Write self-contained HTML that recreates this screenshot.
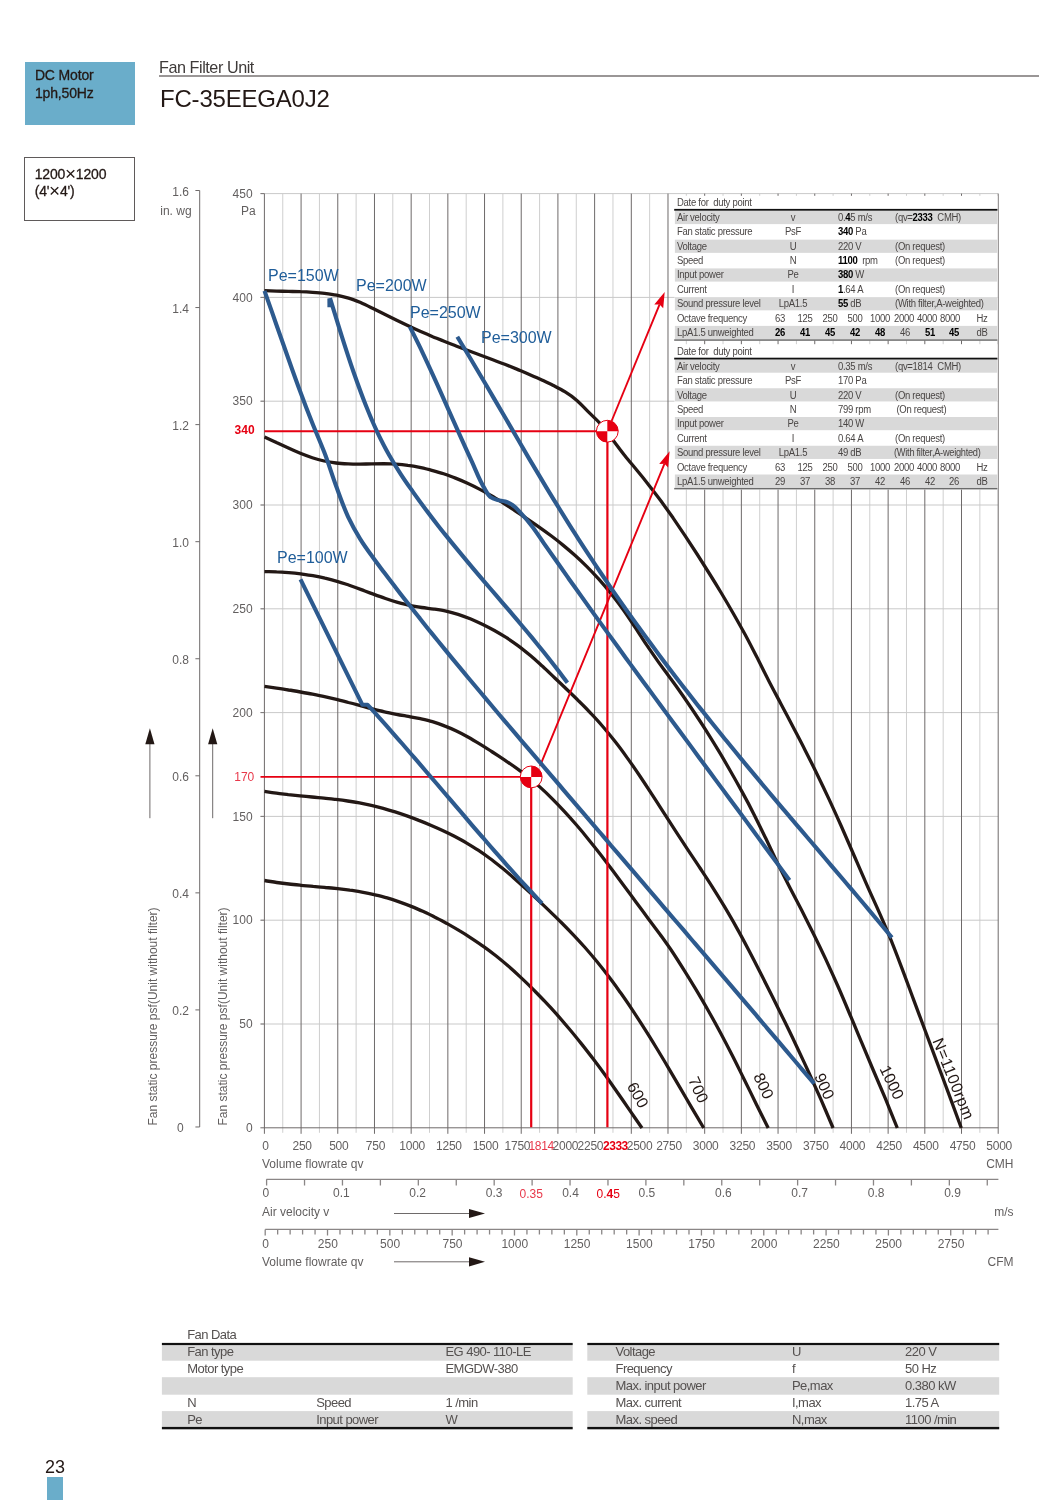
<!DOCTYPE html>
<html lang="en"><head><meta charset="utf-8"><title>FC-35EEGA0J2 Fan Filter Unit</title>
<style>
*{box-sizing:border-box;margin:0;padding:0}
html,body{width:1061px;height:1500px;background:#fff;overflow:hidden}
body{position:relative;font-family:"Liberation Sans",sans-serif;color:#231815}
.abs{position:absolute}
.tag1{left:24.5px;top:62.2px;width:110.9px;height:62.6px;background:#6aadca;padding:5.2px 0 0 10.4px;font-size:14px;line-height:17.3px;letter-spacing:-0.15px;-webkit-text-stroke:0.3px #231815}
.tag2{left:24.3px;top:157.2px;width:111.2px;height:63.6px;border:1px solid #5f5a5a;background:#fff;padding:8.2px 0 0 9.4px;font-size:14px;line-height:17px;letter-spacing:-0.15px;-webkit-text-stroke:0.3px #231815}
.tag2 .x{display:inline-block;font-size:19px;line-height:10px;vertical-align:-1px;letter-spacing:0;-webkit-text-stroke:0;margin:0 -0.3px}
.sub{left:159px;top:57.6px;font-size:16.2px;line-height:18px;color:#3e3a39;letter-spacing:-0.45px}
.rule{left:159px;top:75.2px;width:880.4px;height:1.6px;background:#9a9696}
.title{left:160px;top:84.5px;font-size:24px;line-height:28px;letter-spacing:-0.2px;color:#231815}
svg.chart{position:absolute;left:0;top:0}
svg text{font-family:"Liberation Sans",sans-serif}
.dt{left:674.6px;width:322.8px;height:0;font-size:10px;letter-spacing:-0.3px;color:#4a4645}
.dt .h,.dt .r{position:absolute;left:0;width:100%;height:14.4px;line-height:14.4px}
.dt span{position:absolute;top:0;white-space:nowrap;transform:scaleX(.95);transform-origin:0 50%}
.dt .tight{display:inline-block;transform:scaleX(.975);transform-origin:0 50%;position:static;margin-left:-0.8px}
.dt b{color:#000;font-weight:bold}
.dt i{font-style:normal}
.dt .c1{left:2.1px}
.dt .c2{left:88px;width:60px;text-align:center;transform-origin:50% 50%}
.dt .c3{left:163.4px}
.dt .c4{left:220.3px}
.dt .o{width:30px;text-align:center;transform-origin:50% 50%}
.dt .o0{left:90.4px}.dt .o1{left:115.4px}.dt .o2{left:140.4px}.dt .o3{left:165.4px}.dt .o4{left:190.4px}.dt .o5{left:214px}.dt .o6{left:237.6px}.dt .o7{left:260.9px}.dt .o8{left:292px}
.dt .v .o5{left:215.4px}.dt .v .o6{left:240.4px}.dt .v .o7{left:264.9px}
.ft{height:0;font-size:13px;color:#555150;letter-spacing:-0.55px}
.ft .cap,.ft .r{position:absolute;left:0;width:100%;height:17px;line-height:17px}
.ft .r span{position:absolute;top:0;white-space:nowrap}
.pg{left:45px;top:1457.3px;font-size:18px;line-height:20px;color:#231815}
.pgb{left:46.9px;top:1476.9px;width:16.6px;height:24px;background:#6aadca}
</style></head><body>
<div class="abs tag1">DC Motor<br>1ph,50Hz</div>
<div class="abs tag2">1200<span class="x">&times;</span>1200<br>(4'<span class="x">&times;</span>4')</div>
<div class="abs sub">Fan Filter Unit</div>
<div class="abs rule"></div>
<h1 class="abs title" style="font-weight:normal">FC-35EEGA0J2</h1>
<svg class="chart" width="1061" height="1500" viewBox="0 0 1061 1500">
<path d="M282.75 193.6V1132.8M319.44 193.6V1132.8M356.12 193.6V1132.8M392.81 193.6V1132.8M429.50 193.6V1132.8M466.19 193.6V1132.8M502.88 193.6V1132.8M539.58 193.6V1132.8M576.27 193.6V1132.8M612.96 193.6V1132.8M649.64 193.6V1132.8M686.34 193.6V1132.8M723.03 193.6V1132.8M759.72 193.6V1132.8M796.41 193.6V1132.8M833.10 193.6V1132.8M869.79 193.6V1132.8M906.48 193.6V1132.8M943.17 193.6V1132.8M979.86 193.6V1132.8" stroke="#cfcfcf" stroke-width="1" fill="none"/>
<path d="M260.9 193.60H998.2M260.9 297.40H998.2M260.9 401.20H998.2M260.9 505.00H998.2M260.9 608.80H998.2M260.9 712.60H998.2M260.9 816.40H998.2M260.9 920.20H998.2M260.9 1024.00H998.2" stroke="#c9c9c9" stroke-width="1" fill="none"/>
<path d="M264.40 193.6V1133.8M301.09 193.6V1133.8M337.78 193.6V1133.8M374.47 193.6V1133.8M411.16 193.6V1133.8M447.85 193.6V1133.8M484.54 193.6V1133.8M521.23 193.6V1133.8M557.92 193.6V1133.8M594.61 193.6V1133.8M631.30 193.6V1133.8M667.99 193.6V1133.8M704.68 193.6V1133.8M741.37 193.6V1133.8M778.06 193.6V1133.8M814.75 193.6V1133.8M851.44 193.6V1133.8M888.13 193.6V1133.8M924.82 193.6V1133.8M961.51 193.6V1133.8M998.20 193.6V1133.8" stroke="#6e6a6a" stroke-width="1" fill="none"/>
<path d="M260.4 1127.80H998.2" stroke="#6e6a6a" stroke-width="1" fill="none"/>
<path d="M260.4 193.60H264.4M260.4 297.40H264.4M260.4 401.20H264.4M260.4 505.00H264.4M260.4 608.80H264.4M260.4 712.60H264.4M260.4 816.40H264.4M260.4 920.20H264.4M260.4 1024.00H264.4" stroke="#7a7676" stroke-width="1" fill="none"/>
<path d="M199.7 190.5V1127M195.4 190.50H199.7M195.4 307.56H199.7M195.4 424.62H199.7M195.4 541.68H199.7M195.4 658.74H199.7M195.4 775.80H199.7M195.4 892.86H199.7M195.4 1009.92H199.7M195.4 1126.98H199.7" stroke="#6e6a6a" stroke-width="1" fill="none"/>
<path d="M264.5 290.7C268.5 290.8 272.5 291.0 276.5 291.1C280.5 291.2 284.5 291.3 288.5 291.4C292.5 291.5 296.5 291.5 300.5 291.7C304.5 291.8 308.6 292.0 312.6 292.3C316.6 292.6 320.6 292.9 324.6 293.3C328.6 293.8 332.6 294.3 336.6 295.1C340.6 295.9 344.7 296.9 348.6 298.1C352.7 299.3 356.7 300.9 360.6 302.5C364.7 304.3 368.6 306.3 372.6 308.3C376.6 310.2 380.6 312.3 384.6 314.2C388.6 316.2 392.6 318.2 396.7 320.2C400.6 322.1 404.6 324.0 408.7 325.9C412.7 327.8 416.7 329.7 420.7 331.5C424.7 333.2 428.7 335.0 432.7 336.7C436.7 338.3 440.7 340.0 444.7 341.5C448.7 343.1 452.7 344.7 456.7 346.2C460.7 347.7 464.7 349.2 468.7 350.7C472.7 352.2 476.7 353.7 480.7 355.2C484.8 356.7 488.8 358.2 492.8 359.7C496.8 361.2 500.8 362.7 504.8 364.3C508.8 365.9 512.8 367.5 516.8 369.1C520.8 370.8 524.8 372.4 528.8 374.2C532.8 375.9 536.8 377.7 540.8 379.5C544.8 381.4 548.9 383.3 552.8 385.3C556.9 387.4 561.0 389.3 564.8 391.7C569.0 394.3 573.1 397.2 576.9 400.4C581.2 404.1 584.9 408.4 588.9 412.4C592.9 416.4 597.1 420.1 600.9 424.3C605.2 429.2 608.9 434.7 612.9 439.9C616.9 445.2 620.8 450.5 624.9 455.7C628.8 460.6 632.9 465.4 636.9 470.3C641.0 475.2 645.0 480.1 648.9 485.2C653.0 490.4 657.0 495.7 661.0 501.0C665.0 506.6 669.0 512.2 673.0 517.8C677.0 523.7 681.0 529.6 685.0 535.6C689.0 541.7 693.0 547.8 697.0 554.0C701.0 560.3 705.0 566.6 709.0 573.0C713.1 579.5 717.1 586.0 721.0 592.5C725.1 599.3 729.1 606.1 733.0 613.0C737.1 620.1 741.1 627.3 745.1 634.5C749.2 642.1 753.1 649.8 757.1 657.5C761.1 665.5 765.0 673.5 769.1 681.5C773.0 689.1 777.1 696.6 781.1 704.2C785.1 711.8 789.1 719.4 793.1 727.0C797.1 734.7 801.2 742.4 805.1 750.2C809.2 758.2 813.2 766.2 817.1 774.2C821.2 782.6 825.2 791.0 829.1 799.4C833.2 808.2 837.2 817.1 841.2 826.0C845.2 835.2 849.2 844.4 853.2 853.5C857.2 862.7 861.1 871.9 865.2 881.1C869.1 890.1 873.2 899.0 877.2 907.9C881.3 917.1 885.4 926.3 889.2 935.6C893.4 945.7 897.3 956.0 901.2 966.3C905.3 977.0 909.2 987.8 913.2 998.6C917.3 1009.4 921.2 1020.2 925.3 1031.0C929.2 1041.7 933.3 1052.4 937.3 1063.2C941.3 1073.9 945.3 1084.6 949.3 1095.3C953.3 1106.2 957.3 1117.1 961.3 1128.0" stroke="#231815" stroke-width="3.3" fill="none"/>
<path d="M264.5 437.0C268.5 438.8 272.5 440.6 276.4 442.5C280.4 444.3 284.4 446.2 288.4 448.0C292.3 449.8 296.3 451.6 300.3 453.3C304.3 454.9 308.2 456.4 312.3 457.7C316.2 459.0 320.2 460.1 324.2 461.0C328.1 461.9 332.1 462.5 336.1 463.0C340.1 463.5 344.1 463.7 348.1 463.9C352.1 464.1 356.0 464.1 360.0 464.1C364.0 464.1 368.0 463.9 372.0 463.9C375.9 463.8 379.9 463.7 383.9 463.7C387.9 463.8 391.9 463.9 395.8 464.1C399.8 464.4 403.8 464.8 407.8 465.4C411.8 465.9 415.8 466.6 419.7 467.4C423.7 468.3 427.7 469.2 431.7 470.3C435.7 471.4 439.7 472.5 443.6 473.8C447.6 475.2 451.6 476.6 455.5 478.1C459.6 479.7 463.5 481.4 467.5 483.2C471.5 485.0 475.5 487.0 479.4 489.1C483.4 491.2 487.4 493.4 491.4 495.7C495.4 498.0 499.3 500.5 503.3 503.0C507.3 505.5 511.3 508.2 515.2 510.8C519.2 513.4 523.2 516.1 527.2 518.8C531.2 521.5 535.2 524.3 539.1 527.1C543.1 529.9 547.1 532.8 551.1 535.8C555.1 538.8 559.1 541.9 563.0 545.1C567.0 548.4 571.0 551.8 574.9 555.3C579.0 559.0 583.0 562.8 586.9 566.6C591.0 570.7 594.9 574.9 598.8 579.2C602.9 583.8 606.9 588.5 610.7 593.3C614.9 598.4 618.8 603.7 622.7 609.0C626.8 614.7 630.7 620.6 634.6 626.5C638.7 632.6 642.5 638.9 646.6 644.9C650.5 650.7 654.5 656.4 658.5 662.1C662.4 667.5 666.5 672.8 670.4 678.3C674.5 683.8 678.5 689.4 682.4 695.0C686.4 700.8 690.4 706.6 694.3 712.5C698.4 718.6 702.4 724.7 706.3 730.9C710.3 737.3 714.3 743.7 718.2 750.2C722.3 756.9 726.2 763.7 730.1 770.5C734.2 777.6 738.2 784.7 742.1 791.9C746.2 799.3 750.2 806.8 754.0 814.4C758.1 822.5 762.0 830.7 766.0 838.8C770.0 847.2 773.8 855.6 777.9 863.9C781.8 871.8 785.8 879.7 789.8 887.5C793.8 895.2 797.8 902.8 801.8 910.5C805.8 918.4 809.8 926.3 813.7 934.2C817.8 942.5 821.8 950.8 825.7 959.1C829.7 967.8 833.7 976.7 837.6 985.5C841.7 994.8 845.6 1004.1 849.5 1013.5C853.6 1023.0 857.5 1032.6 861.5 1042.1C865.5 1051.6 869.4 1061.1 873.4 1070.5C877.4 1079.9 881.4 1089.3 885.4 1098.7C889.4 1108.5 893.3 1118.2 897.3 1128.0" stroke="#231815" stroke-width="3.3" fill="none"/>
<path d="M264.5 571.6C268.5 571.7 272.6 571.7 276.6 571.9C280.6 572.0 284.7 572.3 288.7 572.6C292.7 572.9 296.8 573.3 300.8 573.8C304.8 574.4 308.9 575.0 312.9 575.7C316.9 576.4 321.0 577.2 325.0 578.2C329.0 579.1 333.1 580.2 337.1 581.4C341.2 582.5 345.2 583.9 349.2 585.2C353.2 586.6 357.3 588.1 361.3 589.6C365.3 591.1 369.3 592.7 373.4 594.1C377.4 595.6 381.4 597.1 385.5 598.5C389.5 599.9 393.5 601.2 397.6 602.4C401.6 603.5 405.6 604.6 409.7 605.4C413.7 606.3 417.7 606.9 421.8 607.5C425.8 608.1 429.8 608.5 433.9 609.1C437.9 609.7 442.0 610.3 446.0 611.1C450.0 612.0 454.1 613.1 458.1 614.3C462.2 615.6 466.2 617.1 470.2 618.7C474.3 620.4 478.3 622.3 482.3 624.2C486.4 626.2 490.4 628.3 494.4 630.5C498.5 632.8 502.5 635.2 506.5 637.7C510.6 640.4 514.6 643.2 518.6 646.1C522.7 649.2 526.7 652.5 530.7 655.8C534.8 659.3 538.8 663.0 542.8 666.6C546.8 670.3 550.8 674.2 554.8 678.0C558.9 681.8 562.9 685.6 566.9 689.5C571.0 693.4 575.1 697.3 579.0 701.3C583.1 705.3 587.2 709.4 591.1 713.7C595.3 718.0 599.3 722.5 603.2 727.0C607.4 731.9 611.4 736.8 615.3 741.8C619.5 747.1 623.5 752.6 627.4 758.1C631.6 763.8 635.6 769.7 639.5 775.5C643.6 781.6 647.6 787.7 651.6 793.9C655.7 800.1 659.7 806.4 663.7 812.6C667.8 818.9 671.8 825.2 675.8 831.4C679.8 837.6 683.9 843.7 687.9 849.9C691.9 855.9 696.0 861.9 700.0 868.0C704.1 874.2 708.2 880.3 712.1 886.6C716.2 893.1 720.3 899.6 724.2 906.2C728.3 913.1 732.4 920.1 736.3 927.1C740.5 934.5 744.5 942.0 748.4 949.5C752.5 957.3 756.5 965.1 760.5 973.0C764.6 981.0 768.6 989.0 772.6 997.0C776.7 1005.2 780.7 1013.4 784.7 1021.6C788.8 1029.9 792.8 1038.3 796.8 1046.7C800.9 1055.4 804.9 1064.0 808.9 1072.7C813.0 1081.7 817.0 1090.7 821.0 1099.7C825.1 1109.1 829.1 1118.6 833.1 1128.0" stroke="#231815" stroke-width="3.3" fill="none"/>
<path d="M264.5 686.3C268.5 686.9 272.5 687.5 276.5 688.1C280.5 688.7 284.5 689.3 288.5 690.0C292.5 690.6 296.5 691.3 300.5 692.0C304.5 692.7 308.5 693.4 312.5 694.2C316.5 695.0 320.5 695.8 324.5 696.7C328.5 697.6 332.5 698.5 336.5 699.4C340.5 700.4 344.5 701.4 348.4 702.5C352.5 703.5 356.4 704.6 360.4 705.7C364.4 706.8 368.4 707.9 372.4 708.9C376.4 709.9 380.4 710.9 384.4 711.8C388.4 712.7 392.4 713.5 396.4 714.3C400.4 715.1 404.4 715.7 408.4 716.4C412.4 717.2 416.4 717.8 420.4 718.7C424.4 719.6 428.5 720.5 432.4 721.7C436.5 722.9 440.5 724.3 444.4 725.9C448.5 727.4 452.5 729.2 456.4 731.1C460.4 733.0 464.4 735.1 468.4 737.3C472.4 739.6 476.4 742.0 480.4 744.4C484.4 746.9 488.4 749.4 492.4 752.0C496.4 754.6 500.4 757.3 504.4 759.9C508.4 762.6 512.4 765.3 516.4 768.1C520.4 771.0 524.4 774.0 528.3 777.1C532.4 780.4 536.4 783.8 540.3 787.4C544.4 791.1 548.4 794.9 552.3 798.8C556.4 802.9 560.4 807.1 564.3 811.3C568.4 815.7 572.4 820.2 576.3 824.8C580.4 829.5 584.4 834.3 588.3 839.2C592.4 844.2 596.4 849.2 600.3 854.3C604.3 859.5 608.3 864.8 612.3 870.1C616.3 875.4 620.3 880.8 624.3 886.2C628.3 891.6 632.3 897.1 636.3 902.5C640.3 907.9 644.3 913.3 648.3 918.7C652.3 924.1 656.3 929.3 660.3 934.7C664.3 940.3 668.4 946.0 672.3 951.7C676.4 957.9 680.3 964.1 684.2 970.3C688.3 976.8 692.3 983.4 696.2 989.9C700.3 996.8 704.3 1003.6 708.2 1010.5C712.3 1017.7 716.3 1025.0 720.2 1032.2C724.3 1039.9 728.3 1047.6 732.2 1055.3C736.3 1063.3 740.2 1071.4 744.2 1079.4C748.2 1087.6 752.2 1095.7 756.2 1103.9C760.2 1111.9 764.2 1120.0 768.2 1128.0" stroke="#231815" stroke-width="3.3" fill="none"/>
<path d="M264.5 791.4C268.5 792.0 272.4 792.6 276.4 793.1C280.3 793.7 284.3 794.1 288.2 794.6C292.2 795.0 296.2 795.4 300.1 795.8C304.1 796.2 308.0 796.6 312.0 797.0C315.9 797.4 319.9 797.7 323.9 798.1C327.8 798.6 331.8 799.0 335.7 799.4C339.7 799.9 343.6 800.4 347.6 801.0C351.6 801.6 355.5 802.2 359.5 802.9C363.4 803.7 367.4 804.5 371.3 805.3C375.3 806.2 379.3 807.2 383.2 808.3C387.2 809.4 391.1 810.6 395.1 811.9C399.1 813.2 403.0 814.5 406.9 815.9C410.9 817.3 414.9 818.8 418.8 820.4C422.8 821.9 426.8 823.5 430.7 825.2C434.7 826.9 438.6 828.6 442.6 830.5C446.5 832.3 450.5 834.3 454.4 836.3C458.4 838.4 462.4 840.5 466.3 842.8C470.3 845.2 474.3 847.6 478.2 850.2C482.2 852.9 486.2 855.7 490.0 858.5C494.1 861.5 498.0 864.7 501.9 867.8C505.9 871.1 509.9 874.5 513.8 877.9C517.8 881.4 521.7 885.0 525.6 888.6C529.6 892.2 533.6 895.9 537.5 899.6C541.5 903.3 545.5 907.1 549.4 910.9C553.4 914.7 557.3 918.6 561.3 922.5C565.3 926.5 569.2 930.5 573.1 934.6C577.2 938.9 581.1 943.2 585.0 947.5C589.0 952.1 593.0 956.8 596.9 961.5C600.9 966.4 604.9 971.5 608.7 976.6C612.8 981.9 616.7 987.4 620.6 992.8C624.7 998.5 628.6 1004.3 632.5 1010.1C636.5 1016.2 640.5 1022.3 644.3 1028.4C648.4 1034.7 652.3 1041.1 656.2 1047.5C660.2 1054.1 664.2 1060.7 668.1 1067.4C672.1 1074.1 676.0 1080.8 680.0 1087.6C683.9 1094.4 687.9 1101.1 691.8 1107.9C695.8 1114.6 699.7 1121.3 703.7 1128.0" stroke="#231815" stroke-width="3.3" fill="none"/>
<path d="M264.5 880.5C268.6 881.1 272.6 881.9 276.7 882.5C280.7 883.1 284.8 883.6 288.9 884.0C292.9 884.5 297.0 884.9 301.0 885.3C305.1 885.7 309.2 886.0 313.2 886.4C317.3 886.7 321.3 887.1 325.4 887.5C329.4 887.8 333.5 888.2 337.6 888.7C341.6 889.1 345.7 889.6 349.7 890.2C353.8 890.7 357.9 891.4 361.9 892.1C366.0 892.8 370.1 893.6 374.1 894.6C378.2 895.5 382.2 896.6 386.3 897.7C390.4 898.9 394.4 900.2 398.5 901.6C402.5 903.0 406.6 904.5 410.6 906.1C414.7 907.8 418.8 909.5 422.8 911.3C426.9 913.2 431.0 915.1 435.0 917.2C439.1 919.2 443.1 921.4 447.2 923.6C451.3 925.9 455.3 928.2 459.3 930.7C463.4 933.1 467.5 935.7 471.5 938.3C475.6 941.0 479.7 943.7 483.7 946.6C487.8 949.5 491.9 952.6 495.9 955.7C500.0 959.0 504.1 962.3 508.0 965.8C512.2 969.4 516.2 973.1 520.2 976.9C524.3 980.7 528.4 984.7 532.4 988.6C536.5 992.8 540.6 996.9 544.6 1001.2C548.7 1005.5 552.8 1009.9 556.8 1014.4C560.9 1019.1 564.9 1023.8 568.9 1028.5C573.1 1033.4 577.1 1038.4 581.1 1043.4C585.2 1048.6 589.3 1053.8 593.3 1059.1C597.4 1064.5 601.5 1070.0 605.5 1075.5C609.6 1081.2 613.6 1087.0 617.6 1092.8C621.7 1098.6 625.8 1104.6 629.8 1110.4C633.9 1116.3 637.9 1122.2 642.0 1128.0" stroke="#231815" stroke-width="3.3" fill="none"/>
<path d="M264.4 431.2H607.3M260.5 776.9H531.2" stroke="#e60012" stroke-width="1.9" fill="none"/>
<path d="M607.4 431V1127.3M531.2 776V1127.3" stroke="#e60012" stroke-width="2.2" fill="none"/>
<path d="M611.6 421.0L659.6 304.4" stroke="#e60012" stroke-width="1.9" fill="none"/>
<path d="M664.7 292.0L663.2 308.3L659.6 304.4L654.3 304.6Z" fill="#e60012"/>
<path d="M540.0 766.0L664.5 463.7" stroke="#e60012" stroke-width="1.9" fill="none"/>
<path d="M669.6 451.3L668.1 467.6L664.5 463.7L659.2 463.9Z" fill="#e60012"/>
<path d="M264.5 290.9C268.5 302.2 272.5 313.4 276.4 324.7C280.4 336.1 284.4 347.5 288.4 358.8C292.3 369.9 296.2 381.0 300.4 392.0C304.2 402.4 308.2 412.8 312.3 423.1C316.2 432.9 320.5 442.4 324.2 452.1C328.6 463.4 332.0 475.0 336.2 486.3C340.0 496.5 343.5 506.9 348.1 516.8C351.7 524.3 355.7 531.8 360.1 538.9C363.8 544.9 367.9 550.6 372.1 556.3C375.9 561.7 380.0 567.0 384.0 572.3C388.0 577.5 391.9 582.7 396.0 587.9C399.9 593.1 403.9 598.2 407.9 603.3C411.9 608.4 415.8 613.4 419.9 618.4C423.8 623.4 427.8 628.4 431.8 633.4C435.8 638.3 439.8 643.2 443.8 648.1C447.7 652.9 451.7 657.8 455.7 662.6C459.7 667.4 463.7 672.2 467.6 677.0C471.6 681.8 475.6 686.6 479.6 691.3C483.6 696.0 487.6 700.8 491.6 705.5C495.5 710.2 499.5 714.9 503.5 719.6C507.5 724.3 511.5 729.0 515.5 733.6C519.4 738.3 523.4 743.0 527.4 747.7C531.4 752.3 535.4 757.0 539.4 761.7C543.3 766.3 547.3 771.0 551.3 775.7C555.3 780.3 559.3 785.0 563.2 789.6C567.2 794.3 571.2 798.9 575.2 803.6C579.2 808.3 583.2 812.9 587.2 817.6C591.1 822.2 595.1 826.9 599.1 831.5C603.1 836.2 607.1 840.8 611.0 845.5C615.0 850.1 619.0 854.8 623.0 859.4C627.0 864.1 631.0 868.7 635.0 873.4C638.9 878.0 642.9 882.7 646.9 887.3C650.9 892.0 654.9 896.6 658.9 901.3C662.8 906.0 666.8 910.6 670.8 915.3C674.8 919.9 678.8 924.6 682.8 929.2C686.7 933.9 690.7 938.5 694.7 943.2C698.7 947.9 702.7 952.5 706.7 957.2C710.6 961.8 714.6 966.5 718.6 971.2C722.6 975.8 726.6 980.5 730.6 985.2C734.5 989.8 738.5 994.5 742.5 999.2C746.5 1003.9 750.5 1008.6 754.5 1013.2C758.4 1017.9 762.4 1022.6 766.4 1027.3C770.4 1032.0 774.4 1036.7 778.4 1041.4C782.3 1046.1 786.3 1050.8 790.3 1055.5C794.3 1060.2 798.3 1064.9 802.2 1069.6C806.2 1074.3 810.2 1079.0 814.2 1083.7" stroke="#2d5a8e" stroke-width="4.1" fill="none" stroke-linejoin="round"/>
<path d="M330.0 298.1C334.0 310.9 337.8 323.8 341.9 336.6C345.7 348.6 349.6 360.6 353.7 372.5C357.5 383.3 361.4 394.2 365.6 404.8C369.3 414.2 373.2 423.5 377.5 432.6C381.2 440.3 385.1 448.0 389.4 455.5C393.1 462.1 397.1 468.5 401.2 474.8C405.0 480.7 409.1 486.4 413.1 492.1C417.0 497.6 420.9 503.0 425.0 508.4C428.9 513.6 432.8 518.8 436.8 523.9C440.7 529.0 444.7 533.9 448.7 538.9C452.6 543.8 456.6 548.6 460.6 553.4C464.5 558.2 468.5 562.9 472.4 567.6C476.4 572.3 480.3 576.9 484.3 581.6C488.3 586.2 492.2 590.8 496.2 595.4C500.1 600.0 504.1 604.6 508.0 609.2C512.0 613.9 516.0 618.5 519.9 623.2C523.9 627.9 527.9 632.7 531.8 637.4C535.8 642.3 539.7 647.1 543.7 652.0C547.7 657.0 551.6 662.0 555.5 667.1C559.5 672.2 563.4 677.5 567.4 682.7" stroke="#2d5a8e" stroke-width="4.1" fill="none" stroke-linejoin="round"/>
<path d="M409.8 326.6C413.9 335.0 418.2 343.4 422.2 351.8C426.5 360.8 430.6 369.8 434.7 378.8C438.9 388.0 443.0 397.3 447.1 406.6C451.3 416.0 455.4 425.3 459.6 434.7C463.7 443.8 467.8 453.0 472.1 462.1C476.1 470.9 479.4 480.1 484.5 488.3C486.3 491.2 487.6 494.8 490.2 496.8C492.3 498.4 495.1 499.3 497.7 500.1C500.1 500.8 502.8 500.7 505.2 501.5C507.9 502.4 510.5 503.7 512.8 505.2C516.1 507.4 518.6 510.8 521.3 513.7C524.9 517.5 528.3 521.5 531.6 525.7C536.0 531.3 539.8 537.4 543.9 543.3C548.0 549.2 552.1 555.0 556.2 560.8C560.2 566.6 564.3 572.4 568.4 578.2C572.5 583.9 576.6 589.7 580.7 595.4C584.8 601.2 588.9 606.9 593.0 612.6C597.1 618.3 601.2 623.9 605.3 629.6C609.4 635.3 613.5 640.9 617.6 646.5C621.7 652.2 625.7 657.8 629.8 663.4C633.9 669.0 638.0 674.6 642.1 680.2C646.2 685.8 650.3 691.3 654.4 696.9C658.5 702.5 662.6 708.0 666.7 713.6C670.8 719.2 674.9 724.7 679.0 730.3C683.1 735.8 687.2 741.3 691.3 746.9C695.3 752.4 699.4 758.0 703.5 763.5C707.6 769.0 711.7 774.6 715.8 780.1C719.9 785.6 724.0 791.2 728.1 796.7C732.2 802.2 736.3 807.8 740.4 813.3C744.5 818.9 748.6 824.4 752.7 830.0C756.8 835.6 760.8 841.1 764.9 846.7C769.0 852.3 773.1 857.8 777.2 863.4C781.3 869.0 785.4 874.6 789.5 880.2" stroke="#2d5a8e" stroke-width="4.1" fill="none" stroke-linejoin="round"/>
<path d="M457.3 336.7C461.3 343.4 465.4 350.0 469.4 356.7C473.4 363.4 477.4 370.2 481.4 377.0C485.5 383.8 489.5 390.7 493.5 397.6C497.6 404.5 501.6 411.4 505.6 418.3C509.6 425.2 513.6 432.1 517.7 439.0C521.7 445.8 525.7 452.7 529.7 459.6C533.7 466.3 537.8 473.1 541.8 479.9C545.8 486.6 549.8 493.2 553.9 499.9C557.9 506.4 561.9 512.9 566.0 519.4C569.9 525.8 574.0 532.1 578.0 538.4C582.0 544.6 586.0 550.8 590.1 556.9C594.1 563.0 598.1 569.0 602.2 575.0C606.2 580.9 610.2 586.8 614.2 592.6C618.2 598.4 622.3 604.2 626.3 609.9C630.3 615.5 634.3 621.1 638.4 626.7C642.4 632.3 646.4 637.8 650.5 643.3C654.5 648.7 658.5 654.1 662.5 659.5C666.5 664.8 670.6 670.1 674.6 675.4C678.6 680.6 682.6 685.8 686.7 691.0C690.7 696.1 694.7 701.3 698.7 706.4C702.8 711.4 706.8 716.5 710.8 721.5C714.8 726.5 718.9 731.5 722.9 736.5C726.9 741.4 730.9 746.4 735.0 751.3C739.0 756.2 743.0 761.0 747.0 765.9C751.0 770.7 755.1 775.6 759.1 780.4C763.1 785.2 767.1 790.0 771.2 794.8C775.2 799.5 779.2 804.3 783.2 809.1C787.3 813.8 791.3 818.6 795.3 823.3C799.3 828.0 803.4 832.8 807.4 837.5C811.4 842.2 815.4 846.9 819.5 851.7C823.5 856.4 827.5 861.1 831.5 865.8C835.6 870.6 839.6 875.3 843.6 880.0C847.6 884.8 851.7 889.5 855.7 894.3C859.7 899.1 863.7 903.8 867.8 908.6C871.8 913.4 875.8 918.2 879.8 923.0C883.9 927.9 887.9 932.7 891.9 937.6" stroke="#2d5a8e" stroke-width="4.1" fill="none" stroke-linejoin="round"/>
<path d="M300.5 579.4L362.4 704.8L367.6 704.8C371.5 709.1 375.4 713.3 379.2 717.7C383.1 722.0 387.0 726.4 390.9 730.8C394.7 735.2 398.6 739.6 402.5 744.0C406.4 748.5 410.2 753.0 414.1 757.4C418.0 761.9 421.9 766.5 425.7 771.0C429.6 775.5 433.5 780.0 437.4 784.5C441.2 789.1 445.1 793.6 449.0 798.1C452.9 802.7 456.7 807.2 460.6 811.7C464.5 816.3 468.4 820.8 472.2 825.3C476.1 829.8 480.0 834.3 483.9 838.7C487.7 843.2 491.6 847.7 495.5 852.1C499.4 856.5 503.2 860.9 507.1 865.3C511.0 869.6 514.9 873.9 518.7 878.3C522.6 882.5 526.5 886.8 530.4 891.0C534.2 895.2 538.1 899.3 542.0 903.5" stroke="#2d5a8e" stroke-width="4.1" fill="none" stroke-linejoin="round"/>
<path d="M327.4 298.4h3.2l1.5 4.6v4.2h-4.7z" fill="#2d5a8e"/>
<circle cx="607.3" cy="431.2" r="10.9" fill="#fff" stroke="#e60012" stroke-width="1"/>
<path d="M607.3 431.2V420.3A10.9 10.9 0 0 1 618.2 431.2Z" fill="#e60012"/>
<path d="M607.3 431.2V442.1A10.9 10.9 0 0 1 596.4 431.2Z" fill="#e60012"/>
<circle cx="531.2" cy="776.9" r="10.9" fill="#fff" stroke="#e60012" stroke-width="1"/>
<path d="M531.2 776.9V766.0A10.9 10.9 0 0 1 542.1 776.9Z" fill="#e60012"/>
<path d="M531.2 776.9V787.8A10.9 10.9 0 0 1 520.3 776.9Z" fill="#e60012"/>
<rect x="674.6" y="195.8" width="322.9" height="144.6" fill="#fff"/>
<rect x="674.6" y="344.2" width="322.9" height="145.4" fill="#fff"/>
<rect x="674.9" y="210.90" width="322.5" height="13.2" fill="#d9d9d9"/>
<rect x="674.9" y="239.65" width="322.5" height="13.2" fill="#d9d9d9"/>
<rect x="674.9" y="268.40" width="322.5" height="13.2" fill="#d9d9d9"/>
<rect x="674.9" y="297.15" width="322.5" height="13.2" fill="#d9d9d9"/>
<rect x="674.9" y="325.90" width="322.5" height="13.2" fill="#d9d9d9"/>
<rect x="674.2" y="208.90" width="323.2" height="1.8" fill="#111"/>
<rect x="674.2" y="339.30" width="323.2" height="1.5" fill="#6b6b6b"/>
<rect x="674.9" y="359.50" width="322.5" height="13.2" fill="#d9d9d9"/>
<rect x="674.9" y="388.25" width="322.5" height="13.2" fill="#d9d9d9"/>
<rect x="674.9" y="417.00" width="322.5" height="13.2" fill="#d9d9d9"/>
<rect x="674.9" y="445.75" width="322.5" height="13.2" fill="#d9d9d9"/>
<rect x="674.9" y="474.50" width="322.5" height="13.2" fill="#d9d9d9"/>
<rect x="674.2" y="357.70" width="323.2" height="1.8" fill="#111"/>
<rect x="674.2" y="487.90" width="323.2" height="1.5" fill="#6b6b6b"/>
<rect x="161.9" y="1345.10" width="410.8" height="15.6" fill="#d9d9d9"/>
<rect x="161.9" y="1377.20" width="410.8" height="17.5" fill="#d9d9d9"/>
<rect x="161.9" y="1411.10" width="410.8" height="15.8" fill="#d9d9d9"/>
<rect x="161.9" y="1342.9" width="410.8" height="2.2" fill="#111"/>
<rect x="161.9" y="1426.9" width="410.8" height="2.4" fill="#111"/>
<rect x="587.3" y="1345.10" width="411.9" height="15.6" fill="#d9d9d9"/>
<rect x="587.3" y="1377.20" width="411.9" height="17.5" fill="#d9d9d9"/>
<rect x="587.3" y="1411.10" width="411.9" height="15.8" fill="#d9d9d9"/>
<rect x="587.3" y="1342.9" width="411.9" height="2.2" fill="#111"/>
<rect x="587.3" y="1426.9" width="411.9" height="2.4" fill="#111"/>
<path d="M149.9 740V818.2" stroke="#6e6a6a" stroke-width="1" fill="none"/>
<path d="M149.9 728.3l4.6 16h-9.2z" fill="#231815"/>
<path d="M212.7 740V818.2" stroke="#6e6a6a" stroke-width="1" fill="none"/>
<path d="M212.7 728.3l4.6 16h-9.2z" fill="#231815"/>
<path d="M266.4 1179.3H998.4M266.60 1179.3V1185.5M304.53 1179.3V1185.5M342.46 1179.3V1185.5M380.39 1179.3V1185.5M418.32 1179.3V1185.5M456.25 1179.3V1185.5M494.18 1179.3V1185.5M532.11 1179.3V1185.5M570.04 1179.3V1185.5M607.97 1179.3V1185.5M645.90 1179.3V1185.5M683.83 1179.3V1185.5M721.76 1179.3V1185.5M759.69 1179.3V1185.5M797.62 1179.3V1185.5M835.55 1179.3V1185.5M873.48 1179.3V1185.5M911.41 1179.3V1185.5M949.34 1179.3V1185.5M987.27 1179.3V1185.5" stroke="#8a8686" stroke-width="1.3" fill="none"/>
<path d="M265.2 1229.4H998.4M265.20 1229.4V1235.6M277.66 1229.4V1234.6M290.13 1229.4V1234.6M302.59 1229.4V1234.6M315.06 1229.4V1234.6M327.52 1229.4V1235.6M339.98 1229.4V1234.6M352.45 1229.4V1234.6M364.91 1229.4V1234.6M377.38 1229.4V1234.6M389.84 1229.4V1235.6M402.30 1229.4V1234.6M414.77 1229.4V1234.6M427.23 1229.4V1234.6M439.70 1229.4V1234.6M452.16 1229.4V1235.6M464.62 1229.4V1234.6M477.09 1229.4V1234.6M489.55 1229.4V1234.6M502.02 1229.4V1234.6M514.48 1229.4V1235.6M526.94 1229.4V1234.6M539.41 1229.4V1234.6M551.87 1229.4V1234.6M564.34 1229.4V1234.6M576.80 1229.4V1235.6M589.26 1229.4V1234.6M601.73 1229.4V1234.6M614.19 1229.4V1234.6M626.66 1229.4V1234.6M639.12 1229.4V1235.6M651.58 1229.4V1234.6M664.05 1229.4V1234.6M676.51 1229.4V1234.6M688.98 1229.4V1234.6M701.44 1229.4V1235.6M713.90 1229.4V1234.6M726.37 1229.4V1234.6M738.83 1229.4V1234.6M751.30 1229.4V1234.6M763.76 1229.4V1235.6M776.22 1229.4V1234.6M788.69 1229.4V1234.6M801.15 1229.4V1234.6M813.62 1229.4V1234.6M826.08 1229.4V1235.6M838.54 1229.4V1234.6M851.01 1229.4V1234.6M863.47 1229.4V1234.6M875.94 1229.4V1234.6M888.40 1229.4V1235.6M900.86 1229.4V1234.6M913.33 1229.4V1234.6M925.79 1229.4V1234.6M938.26 1229.4V1234.6M950.72 1229.4V1235.6M963.18 1229.4V1234.6M975.65 1229.4V1234.6M988.11 1229.4V1234.6" stroke="#8a8686" stroke-width="1.3" fill="none"/>
<path d="M394 1213.5H470" stroke="#6e6a6a" stroke-width="1" fill="none"/>
<path d="M485 1213.5l-16 -4.6v9.2z" fill="#231815"/>
<path d="M394 1261.8H470" stroke="#6e6a6a" stroke-width="1" fill="none"/>
<path d="M485 1261.8l-16 -4.6v9.2z" fill="#231815"/>
<text x="252.6" y="197.7" font-size="12" text-anchor="end" fill="#625f5f">450</text>
<text x="252.6" y="301.5" font-size="12" text-anchor="end" fill="#625f5f">400</text>
<text x="252.6" y="405.3" font-size="12" text-anchor="end" fill="#625f5f">350</text>
<text x="252.6" y="509.1" font-size="12" text-anchor="end" fill="#625f5f">300</text>
<text x="252.6" y="612.9" font-size="12" text-anchor="end" fill="#625f5f">250</text>
<text x="252.6" y="716.7" font-size="12" text-anchor="end" fill="#625f5f">200</text>
<text x="252.6" y="820.5" font-size="12" text-anchor="end" fill="#625f5f">150</text>
<text x="252.6" y="924.3" font-size="12" text-anchor="end" fill="#625f5f">100</text>
<text x="252.6" y="1028.1" font-size="12" text-anchor="end" fill="#625f5f">50</text>
<text x="252.6" y="1131.9" font-size="12" text-anchor="end" fill="#625f5f">0</text>
<text x="255.8" y="215.3" font-size="12" text-anchor="end" fill="#625f5f">Pa</text>
<text x="189.0" y="195.5" font-size="12" text-anchor="end" fill="#625f5f">1.6</text>
<text x="189.0" y="312.6" font-size="12" text-anchor="end" fill="#625f5f">1.4</text>
<text x="189.0" y="429.6" font-size="12" text-anchor="end" fill="#625f5f">1.2</text>
<text x="189.0" y="546.7" font-size="12" text-anchor="end" fill="#625f5f">1.0</text>
<text x="189.0" y="663.7" font-size="12" text-anchor="end" fill="#625f5f">0.8</text>
<text x="189.0" y="780.8" font-size="12" text-anchor="end" fill="#625f5f">0.6</text>
<text x="189.0" y="897.9" font-size="12" text-anchor="end" fill="#625f5f">0.4</text>
<text x="189.0" y="1014.9" font-size="12" text-anchor="end" fill="#625f5f">0.2</text>
<text x="183.8" y="1132.0" font-size="12" text-anchor="end" fill="#625f5f">0</text>
<text x="191.6" y="215.3" font-size="12" text-anchor="end" fill="#625f5f">in. wg</text>
<text x="254.6" y="434.4" font-size="12" text-anchor="end" fill="#e60012" font-weight="bold">340</text>
<text x="254.3" y="780.8" font-size="12" text-anchor="end" fill="#e8384a">170</text>
<text x="265.4" y="1150.4" font-size="12" text-anchor="middle" fill="#625f5f" letter-spacing="-0.25">0</text>
<text x="302.1" y="1150.4" font-size="12" text-anchor="middle" fill="#625f5f" letter-spacing="-0.25">250</text>
<text x="338.8" y="1150.4" font-size="12" text-anchor="middle" fill="#625f5f" letter-spacing="-0.25">500</text>
<text x="375.5" y="1150.4" font-size="12" text-anchor="middle" fill="#625f5f" letter-spacing="-0.25">750</text>
<text x="412.2" y="1150.4" font-size="12" text-anchor="middle" fill="#625f5f" letter-spacing="-0.25">1000</text>
<text x="448.9" y="1150.4" font-size="12" text-anchor="middle" fill="#625f5f" letter-spacing="-0.25">1250</text>
<text x="485.5" y="1150.4" font-size="12" text-anchor="middle" fill="#625f5f" letter-spacing="-0.25">1500</text>
<text x="517.4" y="1150.4" font-size="12" text-anchor="middle" fill="#625f5f" letter-spacing="-0.25">1750</text>
<text x="565.4" y="1150.4" font-size="12" text-anchor="middle" fill="#625f5f" letter-spacing="-0.25">2000</text>
<text x="590.4" y="1150.4" font-size="12" text-anchor="middle" fill="#625f5f" letter-spacing="-0.25">2250</text>
<text x="639.6" y="1150.4" font-size="12" text-anchor="middle" fill="#625f5f" letter-spacing="-0.25">2500</text>
<text x="669.0" y="1150.4" font-size="12" text-anchor="middle" fill="#625f5f" letter-spacing="-0.25">2750</text>
<text x="705.7" y="1150.4" font-size="12" text-anchor="middle" fill="#625f5f" letter-spacing="-0.25">3000</text>
<text x="742.4" y="1150.4" font-size="12" text-anchor="middle" fill="#625f5f" letter-spacing="-0.25">3250</text>
<text x="779.1" y="1150.4" font-size="12" text-anchor="middle" fill="#625f5f" letter-spacing="-0.25">3500</text>
<text x="815.8" y="1150.4" font-size="12" text-anchor="middle" fill="#625f5f" letter-spacing="-0.25">3750</text>
<text x="852.4" y="1150.4" font-size="12" text-anchor="middle" fill="#625f5f" letter-spacing="-0.25">4000</text>
<text x="889.1" y="1150.4" font-size="12" text-anchor="middle" fill="#625f5f" letter-spacing="-0.25">4250</text>
<text x="925.8" y="1150.4" font-size="12" text-anchor="middle" fill="#625f5f" letter-spacing="-0.25">4500</text>
<text x="962.5" y="1150.4" font-size="12" text-anchor="middle" fill="#625f5f" letter-spacing="-0.25">4750</text>
<text x="999.2" y="1150.4" font-size="12" text-anchor="middle" fill="#625f5f" letter-spacing="-0.25">5000</text>
<text x="541.2" y="1150.4" font-size="12" text-anchor="middle" fill="#e8384a" letter-spacing="-0.3">1814</text>
<text x="615.4" y="1150.4" font-size="12" text-anchor="middle" fill="#e60012" font-weight="bold" letter-spacing="-0.5">2333</text>
<text x="262.0" y="1168.0" font-size="12" text-anchor="start" fill="#625f5f">Volume flowrate qv</text>
<text x="1013.5" y="1168.0" font-size="12" text-anchor="end" fill="#625f5f">CMH</text>
<text x="265.8" y="1197.2" font-size="12" text-anchor="middle" fill="#625f5f">0</text>
<text x="341.3" y="1197.2" font-size="12" text-anchor="middle" fill="#625f5f">0.1</text>
<text x="417.7" y="1197.2" font-size="12" text-anchor="middle" fill="#625f5f">0.2</text>
<text x="494.1" y="1197.2" font-size="12" text-anchor="middle" fill="#625f5f">0.3</text>
<text x="570.5" y="1197.2" font-size="12" text-anchor="middle" fill="#625f5f">0.4</text>
<text x="646.9" y="1197.2" font-size="12" text-anchor="middle" fill="#625f5f">0.5</text>
<text x="723.3" y="1197.2" font-size="12" text-anchor="middle" fill="#625f5f">0.6</text>
<text x="799.7" y="1197.2" font-size="12" text-anchor="middle" fill="#625f5f">0.7</text>
<text x="876.1" y="1197.2" font-size="12" text-anchor="middle" fill="#625f5f">0.8</text>
<text x="952.5" y="1197.2" font-size="12" text-anchor="middle" fill="#625f5f">0.9</text>
<text x="531.2" y="1197.6" font-size="12" text-anchor="middle" fill="#e8384a">0.35</text>
<text x="608.2" y="1198.2" font-size="12" text-anchor="middle" fill="#e60012">0.<tspan font-weight="bold">4</tspan>5</text>
<text x="262.0" y="1215.6" font-size="12" text-anchor="start" fill="#625f5f">Air velocity v</text>
<text x="1013.5" y="1216.0" font-size="12" text-anchor="end" fill="#625f5f">m/s</text>
<text x="265.5" y="1248.0" font-size="12" text-anchor="middle" fill="#625f5f">0</text>
<text x="327.8" y="1248.0" font-size="12" text-anchor="middle" fill="#625f5f">250</text>
<text x="390.1" y="1248.0" font-size="12" text-anchor="middle" fill="#625f5f">500</text>
<text x="452.5" y="1248.0" font-size="12" text-anchor="middle" fill="#625f5f">750</text>
<text x="514.8" y="1248.0" font-size="12" text-anchor="middle" fill="#625f5f">1000</text>
<text x="577.1" y="1248.0" font-size="12" text-anchor="middle" fill="#625f5f">1250</text>
<text x="639.4" y="1248.0" font-size="12" text-anchor="middle" fill="#625f5f">1500</text>
<text x="701.7" y="1248.0" font-size="12" text-anchor="middle" fill="#625f5f">1750</text>
<text x="764.1" y="1248.0" font-size="12" text-anchor="middle" fill="#625f5f">2000</text>
<text x="826.4" y="1248.0" font-size="12" text-anchor="middle" fill="#625f5f">2250</text>
<text x="888.7" y="1248.0" font-size="12" text-anchor="middle" fill="#625f5f">2500</text>
<text x="951.0" y="1248.0" font-size="12" text-anchor="middle" fill="#625f5f">2750</text>
<text x="262.0" y="1265.6" font-size="12" text-anchor="start" fill="#625f5f">Volume flowrate qv</text>
<text x="1013.5" y="1266.0" font-size="12" text-anchor="end" fill="#625f5f">CFM</text>
<text transform="translate(156.8 1125.5) rotate(-90)" font-size="12" fill="#625f5f">Fan static pressure psf(Unit without filter)</text>
<text transform="translate(226.8 1125.5) rotate(-90)" font-size="12" fill="#625f5f">Fan static pressure psf(Unit without filter)</text>
<text x="268.0" y="280.5" font-size="16" text-anchor="start" fill="#1f5d99">Pe=150W</text>
<text x="356.0" y="291.0" font-size="16" text-anchor="start" fill="#1f5d99">Pe=200W</text>
<text x="410.0" y="317.5" font-size="16" text-anchor="start" fill="#1f5d99">Pe=250W</text>
<text x="481.0" y="342.5" font-size="16" text-anchor="start" fill="#1f5d99">Pe=300W</text>
<text x="277.0" y="563.0" font-size="16" text-anchor="start" fill="#1f5d99">Pe=100W</text>
<text transform="translate(637.9 1095.0) rotate(61)" font-size="16" text-anchor="middle" dominant-baseline="central" letter-spacing="0" fill="#231815">600</text>
<text transform="translate(698.4 1089.7) rotate(66)" font-size="16" text-anchor="middle" dominant-baseline="central" letter-spacing="0" fill="#231815">700</text>
<text transform="translate(763.6 1086.0) rotate(65)" font-size="16" text-anchor="middle" dominant-baseline="central" letter-spacing="0" fill="#231815">800</text>
<text transform="translate(824.4 1086.1) rotate(66)" font-size="16" text-anchor="middle" dominant-baseline="central" letter-spacing="0" fill="#231815">900</text>
<text transform="translate(891.9 1082.3) rotate(64)" font-size="16" text-anchor="middle" dominant-baseline="central" letter-spacing="0" fill="#231815">1000</text>
<text transform="translate(953.5 1078.8) rotate(68)" font-size="16" text-anchor="middle" dominant-baseline="central" letter-spacing="0.4" fill="#231815">N=1100rpm</text>
</svg>
<div class="abs dt" style="top:0">
<div class="h" style="top:196.09px"><span class="c1">Date for&nbsp; duty point</span></div>
<div class="r" style="top:210.99px"><span class="c1">Air velocity</span><span class="c2">v</span><span class="c3">0.<b>4</b>5 m/s</span><span class="c4">(qv=<b>2333</b>&nbsp; CMH)</span></div>
<div class="r" style="top:225.36px"><span class="c1">Fan static pressure</span><span class="c2">PsF</span><span class="c3"><b>340</b> Pa</span><span class="c4"></span></div>
<div class="r" style="top:239.73px"><span class="c1">Voltage</span><span class="c2">U</span><span class="c3">220 V</span><span class="c4">(On request)</span></div>
<div class="r" style="top:254.09px"><span class="c1">Speed</span><span class="c2">N</span><span class="c3"><b>1100</b>&nbsp; rpm</span><span class="c4">(On request)</span></div>
<div class="r" style="top:268.47px"><span class="c1">Input power</span><span class="c2">Pe</span><span class="c3"><b>380</b> W</span><span class="c4"></span></div>
<div class="r" style="top:282.84px"><span class="c1">Current</span><span class="c2">I</span><span class="c3"><b>1</b>.64 A</span><span class="c4">(On request)</span></div>
<div class="r" style="top:297.21px"><span class="c1">Sound pressure level</span><span class="c2">LpA1.5</span><span class="c3"><b>55</b> dB</span><span class="c4">(With filter,A-weighted)</span></div>
<div class="r" style="top:311.58px"><span class="c1">Octave frequency</span><span class="o o0">63</span><span class="o o1">125</span><span class="o o2">250</span><span class="o o3">500</span><span class="o o4">1000</span><span class="o o5">2000</span><span class="o o6">4000</span><span class="o o7">8000</span><span class="o o8">Hz</span></div>
<div class="r v" style="top:325.95px"><span class="c1">LpA1.5 unweighted</span><span class="o o0"><b>26</b></span><span class="o o1"><b>41</b></span><span class="o o2"><b>45</b></span><span class="o o3"><b>42</b></span><span class="o o4"><b>48</b></span><span class="o o5">46</span><span class="o o6"><b>51</b></span><span class="o o7"><b>45</b></span><span class="o o8">dB</span></div>
</div>
<div class="abs dt" style="top:0">
<div class="h" style="top:345.09px"><span class="c1">Date for&nbsp; duty point</span></div>
<div class="r" style="top:359.99px"><span class="c1">Air velocity</span><span class="c2">v</span><span class="c3">0.35 m/s</span><span class="c4">(qv=1814&nbsp; CMH)</span></div>
<div class="r" style="top:374.36px"><span class="c1">Fan static pressure</span><span class="c2">PsF</span><span class="c3">170 Pa</span><span class="c4"></span></div>
<div class="r" style="top:388.73px"><span class="c1">Voltage</span><span class="c2">U</span><span class="c3">220 V</span><span class="c4">(On request)</span></div>
<div class="r" style="top:403.10px"><span class="c1">Speed</span><span class="c2">N</span><span class="c3">799 rpm</span><span class="c4"><i style="margin-left:1.5px">(On request)</i></span></div>
<div class="r" style="top:417.47px"><span class="c1">Input power</span><span class="c2">Pe</span><span class="c3">140 W</span><span class="c4"></span></div>
<div class="r" style="top:431.84px"><span class="c1">Current</span><span class="c2">I</span><span class="c3">0.64 A</span><span class="c4">(On request)</span></div>
<div class="r" style="top:446.21px"><span class="c1">Sound pressure level</span><span class="c2">LpA1.5</span><span class="c3">49 dB</span><span class="c4"><i class="tight">(With filter,A-weighted)</i></span></div>
<div class="r" style="top:460.57px"><span class="c1">Octave frequency</span><span class="o o0">63</span><span class="o o1">125</span><span class="o o2">250</span><span class="o o3">500</span><span class="o o4">1000</span><span class="o o5">2000</span><span class="o o6">4000</span><span class="o o7">8000</span><span class="o o8">Hz</span></div>
<div class="r v" style="top:474.94px"><span class="c1">LpA1.5 unweighted</span><span class="o o0">29</span><span class="o o1">37</span><span class="o o2">38</span><span class="o o3">37</span><span class="o o4">42</span><span class="o o5">46</span><span class="o o6">42</span><span class="o o7">26</span><span class="o o8">dB</span></div>
</div>
<div class="abs ft" style="left:161.9px;top:0;width:411px">
<div class="cap" style="top:1326.25px"><span style="position:absolute;left:25.3px">Fan Data</span></div>
<div class="r" style="top:1343.35px"><span style="left:25.3px">Fan type</span><span style="left:283.6px">EG 490- 110-LE</span></div>
<div class="r" style="top:1360.27px"><span style="left:25.3px">Motor type</span><span style="left:283.6px">EMGDW-380</span></div>
<div class="r" style="top:1394.11px"><span style="left:25.3px">N</span><span style="left:154.3px">Speed</span><span style="left:283.6px">1 /min</span></div>
<div class="r" style="top:1411.03px"><span style="left:25.3px">Pe</span><span style="left:154.3px">Input power</span><span style="left:283.6px">W</span></div>
</div>
<div class="abs ft" style="left:587.3px;top:0;width:412px">
<div class="r" style="top:1343.35px"><span style="left:28.2px">Voltage</span><span style="left:204.7px">U</span><span style="left:317.8px">220 V</span></div>
<div class="r" style="top:1360.27px"><span style="left:28.2px">Frequency</span><span style="left:204.7px">f</span><span style="left:317.8px">50 Hz</span></div>
<div class="r" style="top:1377.19px"><span style="left:28.2px">Max. input power</span><span style="left:204.7px">Pe,max</span><span style="left:317.8px">0.380 kW</span></div>
<div class="r" style="top:1394.11px"><span style="left:28.2px">Max. current</span><span style="left:204.7px">I,max</span><span style="left:317.8px">1.75 A</span></div>
<div class="r" style="top:1411.03px"><span style="left:28.2px">Max. speed</span><span style="left:204.7px">N,max</span><span style="left:317.8px">1100 /min</span></div>
</div>
<div class="abs pg">23</div><div class="abs pgb"></div>
</body></html>
